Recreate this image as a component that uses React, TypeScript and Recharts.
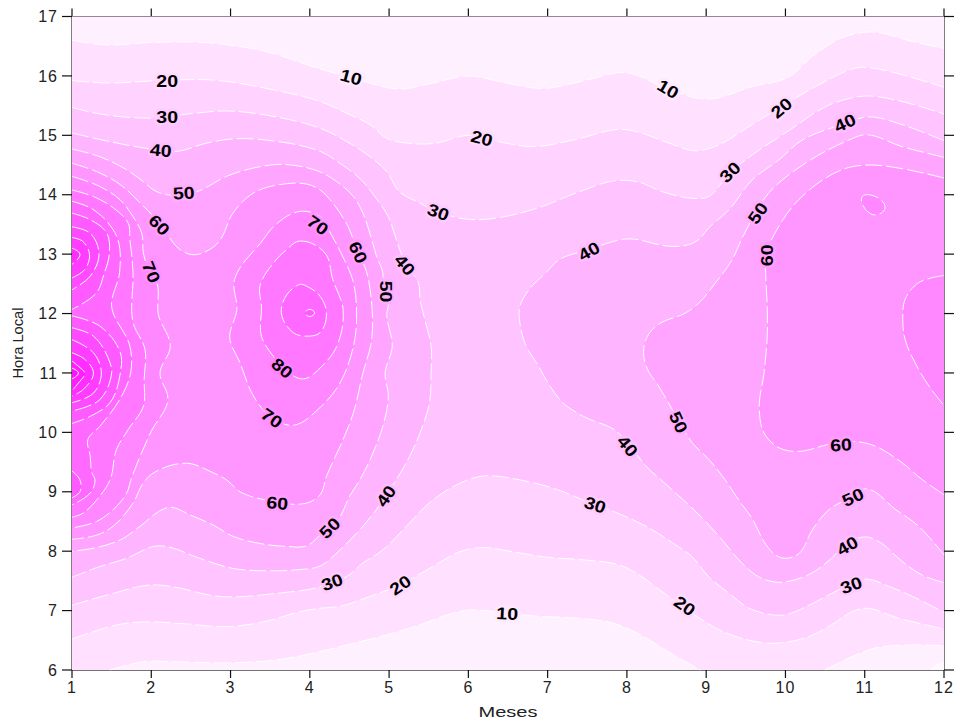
import React from 'react';
import { ScatterChart, Scatter, XAxis, YAxis, Label } from 'recharts';

type P = [number, number];

const monthTicks = [1, 2, 3, 4, 5, 6, 7, 8, 9, 10, 11, 12];
const hourTicks = [6, 7, 8, 9, 10, 11, 12, 13, 14, 15, 16, 17];

const c10Top: P[] = [[1,16.6],[1.44,16.52],[1.98,16.56],[2.7,16.56],[3.45,16.41],[4.1,16.13],[4.55,15.96],[5.13,15.78],[5.55,15.88],[6,16],[6.48,15.88],[6.94,15.79],[7.49,15.93],[7.95,16.06],[8.11,16.02],[8.53,15.77],[9.03,15.61],[9.58,15.82],[10.04,15.98],[10.34,16.33],[10.71,16.64],[11.09,16.74],[11.6,16.58],[12,16.46]];
const c10BotLeft: P[] = [[1.48,6],[1.9,6.14],[2.28,6.14],[2.95,6.12],[3.58,6.17],[4.13,6.31],[4.55,6.45],[4.97,6.59],[5.39,6.76],[5.81,6.96],[6.02,7.01],[6.35,6.98],[6.82,6.91],[7.4,6.87],[7.82,6.79],[8.13,6.62],[8.41,6.4],[8.7,6.17],[8.93,6]];
const c10BotRight: P[] = [[10.5,6],[10.8,6.2],[11.13,6.37],[11.55,6.42],[12,6.41]];
const c5Corner: P[] = [[11.83,6],[11.9,6.08],[12,6.13]];

const c20Top: P[] = [[1,15.92],[1.48,15.88],[2.07,15.92],[2.78,15.93],[3.45,15.79],[4.13,15.57],[4.5,15.35],[4.76,15.18],[4.97,14.95],[5.22,14.87],[5.55,14.86],[6.02,15],[6.35,14.9],[6.82,14.81],[7.32,14.92],[7.91,15.1],[8.13,15.06],[8.53,14.87],[8.87,14.74],[9.16,14.84],[9.54,15.15],[9.92,15.46],[10.38,15.82],[10.88,16.13],[11.05,16.14],[11.47,16.02],[12,15.81]];
const c20Bot: P[] = [[1,6.52],[1.35,6.68],[1.65,6.78],[1.98,6.81],[2.4,6.78],[2.95,6.73],[3.45,6.82],[3.87,6.98],[4.13,7.04],[4.38,7.07],[4.76,7.24],[5.13,7.43],[5.55,7.74],[5.89,7.99],[6.18,8.06],[6.56,7.99],[6.98,7.9],[7.48,7.85],[7.9,7.77],[8.13,7.62],[8.41,7.35],[8.73,7.04],[9.16,6.68],[9.54,6.5],[9.87,6.45],[10.29,6.56],[10.58,6.76],[10.84,6.98],[11.01,7.04],[11.43,6.87],[12,6.69]];

const c30Top: P[] = [[1,15.47],[1.35,15.36],[1.98,15.29],[2.53,15.37],[2.95,15.41],[3.45,15.34],[4.13,15.12],[4.46,14.9],[4.76,14.64],[4.97,14.39],[5.13,14.05],[5.39,13.86],[5.6,13.72],[5.97,13.59],[6.31,13.6],[6.86,13.77],[7.4,14.05],[7.82,14.23],[8.13,14.22],[8.45,14.05],[8.82,13.94],[9.03,13.97],[9.29,14.36],[9.58,14.67],[10,15.04],[10.55,15.51],[10.92,15.65],[11.09,15.66],[11.47,15.57],[12,15.36]];
const c30Bot: P[] = [[1,7.09],[1.52,7.29],[1.98,7.43],[2.28,7.4],[2.78,7.25],[3.03,7.23],[3.58,7.29],[4.13,7.4],[4.28,7.49],[4.46,7.57],[4.67,7.8],[4.92,8.02],[5.22,8.42],[5.55,8.86],[5.99,9.2],[6.23,9.27],[6.65,9.2],[7.07,9.06],[7.6,8.78],[7.83,8.67],[8.12,8.5],[8.28,8.39],[8.61,8.11],[8.82,7.91],[9.03,7.57],[9.29,7.29],[9.54,7.04],[9.92,6.92],[10.08,6.96],[10.34,7.12],[10.8,7.43],[11.01,7.53],[11.3,7.41],[11.6,7.24],[12,6.97]];

const c40Left: P[] = [[1,15.04],[1.35,14.93],[1.94,14.78],[2.32,14.73],[2.7,14.87],[3.03,14.94],[3.45,14.92],[4.13,14.73],[4.38,14.53],[4.65,14.25],[4.82,13.97],[4.99,13.63],[5.09,13.25],[5.21,12.83],[5.37,12.52],[5.39,12.24],[5.45,11.9],[5.53,11.45],[5.53,11],[5.51,10.5],[5.39,9.99],[5.26,9.6],[5.09,9.2],[4.95,8.92],[4.84,8.7],[4.63,8.36],[4.38,8.02],[4.13,7.75],[3.87,7.69],[3.45,7.67],[3.03,7.71],[2.61,7.88],[2.19,8.08],[2.03,8.08],[1.69,7.88],[1.35,7.74],[1,7.56]];
const c40Right: P[] = [[12,14.91],[11.47,15.18],[11.05,15.31],[10.71,15.18],[10.21,14.92],[9.92,14.59],[9.58,14.25],[9.29,13.75],[9.03,13.44],[8.91,13.25],[8.78,13.16],[8.57,13.13],[8.4,13.16],[8.11,13.25],[7.95,13.25],[7.7,13.16],[7.53,13.08],[7.15,12.91],[6.98,12.69],[6.77,12.41],[6.65,12.12],[6.65,11.84],[6.73,11.45],[6.86,11.17],[7.03,10.78],[7.19,10.5],[7.45,10.27],[7.87,10.02],[8.01,9.8],[8.13,9.62],[8.24,9.43],[8.43,9.2],[8.73,8.84],[8.95,8.56],[9.2,8.19],[9.45,7.8],[9.66,7.57],[9.87,7.48],[10.03,7.49],[10.33,7.63],[10.58,7.88],[10.75,8.11],[11.01,8.24],[11.18,8.16],[11.47,7.83],[11.72,7.6],[12,7.47]];

const c50Left: P[] = [[1,14.77],[1.35,14.64],[1.69,14.42],[1.9,14.22],[2.03,14.08],[2.19,14],[2.57,14.05],[2.95,14.31],[3.29,14.45],[3.66,14.51],[4.1,14.4],[4.34,14.22],[4.55,13.97],[4.67,13.69],[4.78,13.25],[4.84,12.97],[4.92,12.69],[4.92,12.4],[4.99,12.18],[4.97,11.98],[5.04,11.45],[4.95,11],[4.99,10.6],[4.92,10.1],[4.76,9.54],[4.63,9.2],[4.5,8.92],[4.38,8.58],[4.25,8.39],[4.13,8.27],[3.96,8.09],[3.71,8.08],[3.37,8.13],[3.03,8.25],[2.78,8.44],[2.49,8.61],[2.24,8.74],[2.11,8.68],[1.86,8.42],[1.61,8.19],[1.27,8.05],[1,8]];
const c50Right: P[] = [[12,14.63],[11.47,14.81],[11.01,15.01],[10.8,14.92],[10.25,14.53],[9.79,14.03],[9.45,13.26],[9.33,12.91],[9.12,12.52],[8.91,12.18],[8.74,12.01],[8.4,11.82],[8.26,11.62],[8.21,11.34],[8.26,11.06],[8.4,10.78],[8.57,10.39],[8.66,10.19],[8.82,9.83],[9.03,9.55],[9.24,9.2],[9.41,8.86],[9.58,8.55],[9.73,8.16],[9.87,7.94],[10,7.88],[10.17,7.96],[10.34,8.36],[10.55,8.7],[10.84,8.92],[11.01,9.05],[11.39,8.7],[11.68,8.42],[12,7.94]];

const c60Left: P[] = [[1,14.53],[1.31,14.39],[1.61,14.17],[1.86,13.86],[2.03,13.63],[2.19,13.35],[2.36,13.08],[2.53,12.99],[2.74,13.08],[2.87,13.24],[3.03,13.69],[3.29,14.03],[3.62,14.17],[3.96,14.18],[4.13,14.08],[4.29,13.86],[4.48,13.47],[4.55,13.24],[4.62,12.97],[4.69,12.8],[4.76,12.41],[4.78,11.56],[4.67,11],[4.55,10.33],[4.42,9.88],[4.21,9.26],[4.13,8.95],[3.96,8.81],[3.45,8.86],[3.12,9],[2.95,9.2],[2.78,9.32],[2.45,9.48],[2.03,9.32],[1.9,9.15],[1.77,8.81],[1.52,8.42],[1.31,8.27],[1,8.2]];
const c60Right: P[] = [[12,14.28],[11.09,14.5],[10.71,14.42],[10.17,13.92],[9.83,13.26],[9.75,12.97],[9.75,12.69],[9.77,12.12],[9.77,11.62],[9.73,11],[9.67,10.44],[9.73,9.99],[9.92,9.74],[10.17,9.68],[10.55,9.8],[10.84,9.85],[11.13,9.77],[11.47,9.49],[11.72,9.21],[12,8.95]];

const c70Left: P[] = [[1,14.31],[1.35,14.14],[1.61,13.91],[1.77,13.63],[1.88,13.35],[1.9,13.02],[1.98,12.69],[2.07,12.52],[2.09,11.98],[2.24,11.45],[2.11,11],[2.21,10.55],[2,10.02],[1.75,9.23],[1.69,8.98],[1.52,8.7],[1.31,8.5],[1,8.39]];
const c70Center: P[] = [[3.41,13.24],[3.54,13.46],[3.79,13.69],[3.96,13.72],[4.13,13.63],[4.27,13.33],[4.4,13],[4.55,12.52],[4.59,11.9],[4.55,11.45],[4.38,10.83],[4.13,10.42],[3.79,10.12],[3.5,10.27],[3.29,10.61],[3.12,11.17],[2.99,11.59],[3.08,12.07],[3.05,12.57]];
const c70Right: P[] = [[12,12.64],[11.68,12.52],[11.51,12.24],[11.48,11.9],[11.51,11.56],[11.68,11.06],[11.81,10.78],[12,10.45]];
const c70Blob: P[] = [[10.97,13.97],[11.05,14],[11.24,13.86],[11.25,13.75],[11.13,13.66],[11,13.77]];

const c80Left: P[] = [[1,14.08],[1.27,13.97],[1.52,13.78],[1.71,13.52],[1.73,13.24],[1.75,13.02],[1.77,12.69],[1.77,11.85],[1.92,11.4],[1.91,10.89],[1.9,10.44],[1.71,10.05],[1.56,9.71],[1.48,9.2],[1.31,8.86],[1.14,8.64],[1,8.57]];
const c80Center: P[] = [[3.87,13.22],[4.19,13.02],[4.29,12.57],[4.42,12.07],[4.34,11.45],[4.15,11.11],[3.92,10.9],[3.71,11.03],[3.54,11.28],[3.39,11.62],[3.39,12.12],[3.37,12.46],[3.54,12.85],[3.71,13.08]];

const c90Left: P[] = [[1,13.89],[1.23,13.78],[1.44,13.55],[1.58,13.24],[1.6,12.69],[1.5,12.12],[1.73,11.45],[1.74,11],[1.6,10.55],[1.35,10.1],[1.2,9.88],[1.23,9.6],[1.25,9.32],[1.29,9.2],[1.23,8.98],[1,8.78]];
const c90Center: P[] = [[3.87,12.49],[3.96,12.46],[4.13,12.29],[4.21,12.01],[4.13,11.68],[4,11.62],[3.79,11.68],[3.64,12.07]];

const c100Upper: P[] = [[1,13.69],[1.23,13.58],[1.44,13.35],[1.47,13],[1.4,12.65],[1.31,12.35],[1,12.07]];
const c100Lower: P[] = [[1,11.96],[1.35,11.79],[1.61,11.34],[1.61,11],[1.48,10.5],[1.23,10.27],[1,10.15]];
const c100Small: P[] = [[1,9.35],[1.1,9.2],[1.1,9],[1,8.9]];
const c100Center: P[] = [[4,12.07],[4.06,12.01],[4,11.95],[3.94,12.01]];

const c110Upper: P[] = [[1,13.46],[1.23,13.35],[1.34,13],[1.23,12.63],[1,12.4]];
const c110Lower: P[] = [[1,11.76],[1.27,11.62],[1.48,11.17],[1.5,11],[1.35,10.55],[1,10.36]];
const c120Upper: P[] = [[1,13.28],[1.13,13.22],[1.22,13],[1.16,12.74],[1,12.6]];
const c120Lower: P[] = [[1,11.56],[1.27,11.34],[1.37,11],[1.27,10.66],[1,10.5]];
const c130Upper: P[] = [[1,13.1],[1.1,13],[1,12.83]];
const c130Lower: P[] = [[1,11.34],[1.16,11.23],[1.27,11],[1.14,10.72],[1,10.61]];
const c140Lower: P[] = [[1,11.2],[1.1,11.09],[1.16,11],[1.08,10.83],[1,10.7]];
const c150Lower: P[] = [[1,11.08],[1.08,11],[1,10.9]];

const labelSpots: P[] = [[2.2,15.91],[2.2,15.31],[2.12,14.75],[2.41,14.03],[2.1,13.49],[2,12.7],[4.52,15.98],[6.17,14.95],[5.62,13.71],[4.1,13.49],[4.61,13.03],[5.2,12.82],[4.96,12.37],[3.65,11.08],[3.52,10.24],[3.59,8.81],[4.25,8.39],[4.96,8.93],[4.28,7.48],[5.14,7.43],[6.49,6.95],[7.6,8.78],[8.01,9.77],[8.65,10.17],[7.52,13.05],[9.77,12.98],[9.65,13.69],[9.3,14.38],[9.95,15.46],[10.75,15.21],[8.52,15.78],[10.7,9.79],[10.85,8.91],[10.78,8.09],[10.83,7.43],[8.73,7.08]];
const labelTexts = ['20','30','40','50','60','70','10','20','30','70','60','40','50','80','70','60','50','40','30','20','10','30','40','50','40','60','50','30','20','40','10','60','50','40','30','20'];
const labelTilts = [0,0,5,-3,45,68,15,15,20,35,65,50,90,40,35,5,-45,-55,-20,-35,3,18,50,65,-30,-90,-55,-45,-40,-25,30,-3,-25,-30,-20,35];

const frame: P[] = [[1, 6], [1, 17], [12, 17], [12, 6]];

const rev = (a: P[]) => [...a].reverse();
const pts = (a: P[]) => a.map(([x, y]) => ({ x, y }));
const onFrame = ([x, y]: P) => x === 1 || x === 12 || y === 6 || y === 17;

const fills: { color: string; poly: P[] }[] = [
  { color: '#ffe1ff', poly: [...c10Top, ...rev(c10BotRight), ...rev(c10BotLeft), [1, 6]] },
  { color: '#fff8ff', poly: [...c5Corner, [12, 6]] },
  { color: '#ffd2ff', poly: [...c20Top, ...rev(c20Bot)] },
  { color: '#ffc3ff', poly: [...c30Top, ...rev(c30Bot)] },
  { color: '#ffb4ff', poly: c40Left },
  { color: '#ffb4ff', poly: c40Right },
  { color: '#ffa5ff', poly: c50Left },
  { color: '#ffa5ff', poly: c50Right },
  { color: '#ff96ff', poly: c60Left },
  { color: '#ff96ff', poly: c60Right },
  { color: '#ff87ff', poly: c70Left },
  { color: '#ff87ff', poly: c70Center },
  { color: '#ff87ff', poly: c70Right },
  { color: '#ff87ff', poly: c70Blob },
  { color: '#ff78ff', poly: c80Left },
  { color: '#ff78ff', poly: c80Center },
  { color: '#ff69ff', poly: c90Left },
  { color: '#ff69ff', poly: c90Center },
  { color: '#ff5aff', poly: c100Upper },
  { color: '#ff5aff', poly: c100Lower },
  { color: '#ff5aff', poly: c100Small },
  { color: '#ff5aff', poly: c100Center },
  { color: '#ff4bff', poly: c110Upper },
  { color: '#ff4bff', poly: c110Lower },
  { color: '#ff3cff', poly: c120Upper },
  { color: '#ff3cff', poly: c120Lower },
  { color: '#ff2dff', poly: c130Upper },
  { color: '#ff2dff', poly: c130Lower },
  { color: '#ff1eff', poly: c140Lower },
  { color: '#ff0fff', poly: c150Lower },
];

const openLines: P[][] = [c10Top, c10BotLeft, c10BotRight, c5Corner, c20Top, c20Bot, c30Top, c30Bot, c40Left, c40Right, c50Left, c50Right, c60Left, c60Right, c70Left, c70Right, c80Left, c90Left, c100Upper, c100Lower, c100Small, c110Upper, c110Lower, c120Upper, c120Lower, c130Upper, c130Lower, c140Lower, c150Lower];
const closedLines: P[][] = [c70Center, c70Blob, c80Center, c90Center, c100Center];

const labelData = labelSpots.map(([x, y], i) => ({ x, y, text: labelTexts[i], tilt: labelTilts[i] }));

function smoothD(points: { x: number; y: number }[], closed: boolean, sharp?: boolean[]) {
  const n = points.length;
  if (n < 2) return '';
  const tangent = (i: number) => {
    const p = points[i];
    if (!closed && (i === 0 || i === n - 1)) return null;
    if (sharp && sharp[i]) return null;
    const a = points[(i - 1 + n) % n];
    const b = points[(i + 1) % n];
    const ux = p.x - a.x, uy = p.y - a.y, vx = b.x - p.x, vy = b.y - p.y;
    const lu = Math.hypot(ux, uy) || 1, lv = Math.hypot(vx, vy) || 1;
    const tx = ux / lu + vx / lv, ty = uy / lu + vy / lv;
    const lt = Math.hypot(tx, ty) || 1;
    return { x: tx / lt, y: ty / lt };
  };
  let d = `M${points[0].x},${points[0].y}`;
  const segs = closed ? n : n - 1;
  for (let i = 0; i < segs; i++) {
    const p = points[i], q = points[(i + 1) % n];
    const len = Math.hypot(q.x - p.x, q.y - p.y) / 3;
    const t0 = tangent(i), t1 = tangent((i + 1) % n);
    const c1x = t0 ? p.x + t0.x * len : p.x, c1y = t0 ? p.y + t0.y * len : p.y;
    const c2x = t1 ? q.x - t1.x * len : q.x, c2y = t1 ? q.y - t1.y * len : q.y;
    d += `C${c1x},${c1y},${c2x},${c2y},${q.x},${q.y}`;
  }
  return closed ? d + 'Z' : d;
}

function BandFill(props: any) {
  return <path d={smoothD(props.points, true, props.sharp)} fill={props.paint} stroke="none" />;
}

function ContourLine(props: any) {
  return (
    <path
      d={smoothD(props.points, !!props.ring)}
      fill="none"
      stroke="#ffffff"
      strokeWidth={1}
      strokeDasharray="17 4"
    />
  );
}

const NoMark = () => <g />;

const ContourLabel = (props: any) => {
  const { cx, cy, payload } = props;
  const g = Math.round(255 - 1.5 * Number(payload.text) - 7);
  return (
    <text
      x={0}
      y={0}
      transform={`translate(${cx} ${cy}) rotate(${payload.tilt}) scale(1.15 1)`}
      textAnchor="middle"
      dominantBaseline="central"
      fontFamily="'Liberation Sans', Arial, sans-serif"
      fontWeight="bold"
      fontSize={17}
      fill="#000"
      stroke={`rgb(255,${g},255)`}
      strokeWidth={5}
      strokeLinejoin="round"
      style={{ paintOrder: 'stroke' }}
    >
      {payload.text}
    </text>
  );
};

const tickStyle = { fontFamily: "'Liberation Sans', Arial, sans-serif", fontSize: 16, letterSpacing: 1, fill: '#222' };

const XTitle = (props: any) => {
  const { viewBox } = props;
  return (
    <text x={viewBox.x + viewBox.width / 2} y={717} textAnchor="middle" textLength={59} lengthAdjust="spacingAndGlyphs" fontFamily="'Liberation Sans', Arial, sans-serif" fontSize={15} fill="#222">
      Meses
    </text>
  );
};

const YTitle = () => (
  <text x={18} y={343} transform="rotate(-90 18 343)" textAnchor="middle" dominantBaseline="central" textLength={71} lengthAdjust="spacingAndGlyphs" fontFamily="'Liberation Sans', Arial, sans-serif" fontSize={14} fill="#222">
    Hora Local
  </text>
);

const tickMark = { stroke: '#111', strokeWidth: 1.2 };

export default function App() {
  return (
    <div style={{ position: 'absolute', left: 0, top: 0, width: 956, height: 720, background: '#fff' }}>
      <ScatterChart width={956} height={720} margin={{ top: 0, right: 0, bottom: 0, left: 0 }}>
        <Scatter xAxisId="x" yAxisId="y" data={pts(frame)} shape={NoMark} line={<BandFill paint="#fff0ff" sharp={frame.map(onFrame)} />} isAnimationActive={false} />
        <Scatter xAxisId="xTop" yAxisId="yRight" data={pts(frame)} shape={NoMark} isAnimationActive={false} />
        {fills.map((f, i) => (
          <Scatter key={`f${i}`} xAxisId="x" yAxisId="y" data={pts(f.poly)} shape={NoMark} line={<BandFill paint={f.color} sharp={f.poly.map(onFrame)} />} isAnimationActive={false} />
        ))}
        {openLines.map((l, i) => (
          <Scatter key={`o${i}`} xAxisId="x" yAxisId="y" data={pts(l)} shape={NoMark} line={<ContourLine />} isAnimationActive={false} />
        ))}
        {closedLines.map((l, i) => (
          <Scatter key={`c${i}`} xAxisId="x" yAxisId="y" data={pts(l)} shape={NoMark} line={<ContourLine ring />} isAnimationActive={false} />
        ))}
        <Scatter xAxisId="x" yAxisId="y" data={labelData} shape={ContourLabel} isAnimationActive={false} />

        <XAxis xAxisId="x" dataKey="x" type="number" domain={[1, 12]} ticks={monthTicks} interval={0} orientation="bottom" height={50} tickSize={8} tickMargin={4} tick={tickStyle} axisLine={{ stroke: '#444', strokeWidth: 1.5 }} tickLine={tickMark}>
          <Label content={<XTitle />} />
        </XAxis>
        <XAxis xAxisId="xTop" dataKey="x" type="number" domain={[1, 12]} ticks={monthTicks} interval={0} orientation="top" height={16.5} tickSize={8} tick={NoMark} axisLine={{ stroke: '#222', strokeWidth: 1.2 }} tickLine={tickMark} />
        <YAxis yAxisId="y" dataKey="y" type="number" domain={[6, 17]} ticks={hourTicks} interval={0} orientation="left" width={72} tickSize={10} tickMargin={4} tick={tickStyle} axisLine={{ stroke: '#555', strokeWidth: 1.5 }} tickLine={tickMark}>
          <Label content={<YTitle />} />
        </YAxis>
        <YAxis yAxisId="yRight" dataKey="y" type="number" domain={[6, 17]} ticks={hourTicks} interval={0} orientation="right" width={12} tickSize={10} tick={NoMark} axisLine={{ stroke: '#555', strokeWidth: 1.5 }} tickLine={tickMark} />
      </ScatterChart>
    </div>
  );
}
